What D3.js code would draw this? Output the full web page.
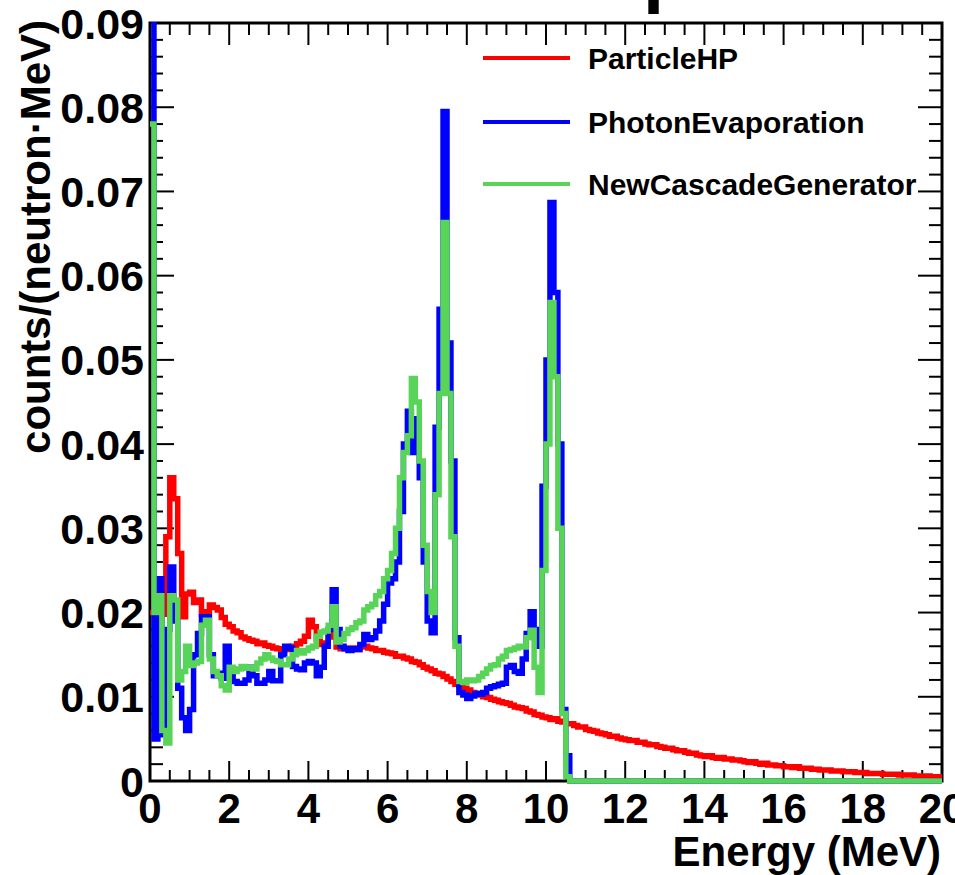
<!DOCTYPE html>
<html><head><meta charset="utf-8">
<script src="https://cdn.jsdelivr.net/npm/d3@7"></script>
<style>
body{margin:0;background:#fff}
svg{display:block}
text{font-family:"Liberation Sans",Arial,Helvetica,sans-serif;font-weight:bold;fill:#000}
</style>
</head><body>
<svg id="c" width="955" height="875"></svg>
<script>
// ---------- data ----------
const binWidth = 0.1; // MeV, histogram bins from 0 to 20 MeV
const xTickValues = [0, 2, 4, 6, 8, 10, 12, 14, 16, 18, 20];
const xTickLabels = ["0", "2", "4", "6", "8", "10", "12", "14", "16", "18", "20"];
const yTickValues = [0, 0.01, 0.02, 0.03, 0.04, 0.05, 0.06, 0.07, 0.08, 0.09];
const yTickLabels = ["0", "0.01", "0.02", "0.03", "0.04", "0.05", "0.06", "0.07", "0.08", "0.09"];
const seriesNames = ["ParticleHP", "PhotonEvaporation", "NewCascadeGenerator"];
const seriesColors = ["#ff0000", "#0000ff", "#58d458"];
const titleText = "Gamma spectrum";
const xTitle = "Energy (MeV)";
const yTitle = "counts/(neutron\u00b7MeV)";

const particleHP = [
 0.0200,0.0222,0.0218,0.0198,0.0290,0.0360,0.0335,0.0270,0.0195,0.0222,
 0.0224,0.0212,0.0215,0.0198,0.0201,0.0209,0.0206,0.0203,0.0194,0.0186,
 0.0183,0.0178,0.0176,0.0171,0.0169,0.0167,0.0166,0.0163,0.0164,0.0161,
 0.0160,0.0158,0.0157,0.0155,0.0156,0.0158,0.0160,0.0163,0.0166,0.0172,
 0.0191,0.0183,0.0168,0.0162,0.0164,0.0171,0.0180,0.0159,0.0157,0.0158,
 0.0157,0.0158,0.0156,0.0159,0.0160,0.0158,0.0157,0.0155,0.0155,0.0153,
 0.0152,0.0151,0.0148,0.0148,0.0146,0.0145,0.0142,0.0141,0.0138,0.0135,
 0.0133,0.0131,0.0128,0.0127,0.0124,0.0121,0.0118,0.0115,0.0113,0.0110,
 0.0108,0.0105,0.0104,0.0102,0.0100,0.0099,0.0097,0.0096,0.0094,0.0093,
 0.0092,0.0090,0.0088,0.0087,0.0086,0.0083,0.0082,0.0079,0.0078,0.0076,
 0.0075,0.0073,0.0074,0.0071,0.0070,0.0068,0.0068,0.0066,0.0064,0.0064,
 0.0061,0.0060,0.0059,0.0057,0.0056,0.0055,0.0053,0.0053,0.0051,0.0050,
 0.0049,0.0048,0.0048,0.0046,0.0046,0.0044,0.0043,0.0043,0.0041,0.0040,
 0.0039,0.0039,0.0037,0.0036,0.0036,0.0034,0.0033,0.0033,0.0031,0.0030,
 0.0029,0.0030,0.0028,0.0027,0.0028,0.0026,0.0026,0.0025,0.0025,0.0024,
 0.0023,0.0022,0.0023,0.0021,0.0020,0.0021,0.0019,0.0019,0.0018,0.0018,
 0.0017,0.0017,0.0016,0.0017,0.0015,0.0015,0.0015,0.0014,0.0014,0.0013,
 0.0013,0.0013,0.0012,0.0012,0.0012,0.0011,0.0011,0.0011,0.0010,0.0010,
 0.0010,0.0009,0.0009,0.0009,0.0009,0.0008,0.0008,0.0008,0.0008,0.0007,
 0.0007,0.0007,0.0007,0.0006,0.0006,0.0006,0.0006,0.0005,0.0005,0.0005
];
const photonEvaporation = [
 0.0980,0.0050,0.0240,0.0055,0.0180,0.0254,0.0190,0.0110,0.0075,0.0060,
 0.0085,0.0150,0.0175,0.0195,0.0195,0.0150,0.0125,0.0128,0.0122,0.0160,
 0.0130,0.0118,0.0116,0.0116,0.0120,0.0135,0.0125,0.0116,0.0116,0.0120,
 0.0130,0.0119,0.0119,0.0150,0.0160,0.0158,0.0136,0.0133,0.0132,0.0140,
 0.0142,0.0140,0.0125,0.0135,0.0160,0.0180,0.0227,0.0180,0.0160,0.0157,
 0.0155,0.0157,0.0156,0.0162,0.0174,0.0168,0.0170,0.0178,0.0190,0.0210,
 0.0235,0.0240,0.0260,0.0320,0.0400,0.0439,0.0390,0.0430,0.0360,0.0260,
 0.0190,0.0176,0.0420,0.0560,0.0795,0.0520,0.0380,0.0170,0.0105,0.0102,
 0.0098,0.0101,0.0104,0.0103,0.0105,0.0110,0.0112,0.0113,0.0115,0.0116,
 0.0135,0.0137,0.0130,0.0128,0.0145,0.0175,0.0201,0.0180,0.0160,0.0350,
 0.0500,0.0687,0.0580,0.0400,0.0085,0.0030,0,0,0,0,
 0,0,0,0,0,0,0,0,0,0,
 0,0,0,0,0,0,0,0,0,0,
 0,0,0,0,0,0,0,0,0,0,
 0,0,0,0,0,0,0,0,0,0,
 0,0,0,0,0,0,0,0,0,0,
 0,0,0,0,0,0,0,0,0,0,
 0,0,0,0,0,0,0,0,0,0,
 0,0,0,0,0,0,0,0,0,0,
 0,0,0,0,0,0,0,0,0,0
];
const newCascadeGenerator = [
 0.0780,0.0200,0.0220,0.0060,0.0045,0.0220,0.0215,0.0120,0.0130,0.0160,
 0.0137,0.0140,0.0142,0.0185,0.0191,0.0145,0.0130,0.0125,0.0113,0.0108,
 0.0135,0.0130,0.0133,0.0136,0.0134,0.0135,0.0133,0.0140,0.0145,0.0150,
 0.0146,0.0143,0.0142,0.0138,0.0138,0.0145,0.0150,0.0155,0.0152,0.0155,
 0.0158,0.0160,0.0172,0.0177,0.0178,0.0185,0.0207,0.0165,0.0168,0.0175,
 0.0180,0.0182,0.0188,0.0190,0.0203,0.0207,0.0210,0.0220,0.0225,0.0240,
 0.0250,0.0270,0.0300,0.0360,0.0390,0.0410,0.0478,0.0450,0.0380,0.0280,
 0.0225,0.0200,0.0340,0.0460,0.0663,0.0460,0.0290,0.0160,0.0118,0.0117,
 0.0120,0.0119,0.0120,0.0124,0.0128,0.0133,0.0137,0.0138,0.0145,0.0148,
 0.0155,0.0156,0.0158,0.0160,0.0159,0.0170,0.0179,0.0135,0.0105,0.0250,
 0.0400,0.0568,0.0480,0.0300,0.0080,0.0005,0,0,0,0,
 0,0,0,0,0,0,0,0,0,0,
 0,0,0,0,0,0,0,0,0,0,
 0,0,0,0,0,0,0,0,0,0,
 0,0,0,0,0,0,0,0,0,0,
 0,0,0,0,0,0,0,0,0,0,
 0,0,0,0,0,0,0,0,0,0,
 0,0,0,0,0,0,0,0,0,0,
 0,0,0,0,0,0,0,0,0,0,
 0,0,0,0,0,0,0,0,0,0
];
const seriesValues = [particleHP, photonEvaporation, newCascadeGenerator];

// ---------- layout ----------
const frame = {left: 150, right: 942, top: 23, bottom: 781};
const svg = d3.select("#c");

const x = d3.scaleLinear().domain([0, 20]).range([frame.left, frame.right]);
const y = d3.scaleLinear().domain([0, 0.09]).range([frame.bottom, frame.top]);

svg.append("defs").append("clipPath").attr("id", "clip")
  .append("rect").attr("x", frame.left - 2).attr("y", frame.top - 1)
  .attr("width", frame.right - frame.left + 4).attr("height", frame.bottom - frame.top + 4);

// title (lies above the picture; only the descender of "p" peeks in)
const title = svg.append("text").attr("font-size", 76).attr("y", -2).attr("x", 0).text(titleText);
(function placeTitle(){
  const node = title.node();
  const idx = titleText.indexOf("p");
  const ext = node.getExtentOfChar(idx);
  title.attr("x", 657 - (ext.x + ext.width * 0.3));
})();

// ticks
const xMinor = d3.range(0, 20.001, 0.5);
const yMinor = d3.range(0, 0.09001, 0.002);
const gT = svg.append("g").attr("stroke", "#000").attr("stroke-width", 2);
xMinor.forEach(v => {
  const major = xTickValues.some(t => Math.abs(t - v) < 1e-6);
  const lb = major ? 20 : 11, lt = major ? 22 : 12;
  gT.append("line").attr("x1", x(v)).attr("x2", x(v)).attr("y1", frame.bottom).attr("y2", frame.bottom - lb);
  gT.append("line").attr("x1", x(v)).attr("x2", x(v)).attr("y1", frame.top).attr("y2", frame.top + lt);
});
yMinor.forEach(v => {
  const major = yTickValues.some(t => Math.abs(t - v) < 1e-7);
  const l = major ? 24 : 13;
  gT.append("line").attr("x1", frame.left).attr("x2", frame.left + l).attr("y1", y(v)).attr("y2", y(v));
  gT.append("line").attr("x1", frame.right).attr("x2", frame.right - l).attr("y1", y(v)).attr("y2", y(v));
});

// frame
svg.append("rect").attr("x", frame.left).attr("y", frame.top)
  .attr("width", frame.right - frame.left).attr("height", frame.bottom - frame.top)
  .attr("fill", "none").attr("stroke", "#000").attr("stroke-width", 3);

// histogram lines (drawn over the frame, as in the reference)
const line = d3.line().x(d => x(d[0])).y(d => y(d[1])).curve(d3.curveStepAfter);
const gLines = svg.append("g").attr("clip-path", "url(#clip)");
seriesValues.forEach((vals, si) => {
  const pts = vals.map((v, i) => [i * binWidth, v]);
  pts.push([vals.length * binWidth, vals[vals.length - 1]]);
  gLines.append("path").datum(pts)
    .attr("d", line).attr("fill", "none")
    .attr("stroke", seriesColors[si]).attr("stroke-width", 5.5)
    .attr("stroke-linejoin", "miter");
});

// tick labels
svg.append("g").selectAll("text").data(xTickValues).join("text")
  .attr("x", d => x(d)).attr("y", 823).attr("text-anchor", "middle")
  .attr("font-size", 42).text((d, i) => xTickLabels[i]);
svg.append("g").selectAll("text").data(yTickValues).join("text")
  .attr("x", 144).attr("y", d => y(d) + 15.5).attr("text-anchor", "end")
  .attr("font-size", 43).text((d, i) => yTickLabels[i]);

// axis titles
svg.append("text").attr("x", 941).attr("y", 866).attr("text-anchor", "end")
  .attr("font-size", 42).text(xTitle);
svg.append("text").attr("transform", "translate(50,20) rotate(-90)")
  .attr("text-anchor", "end").attr("font-size", 42).text(yTitle);

// legend
const legY = [58, 122, 184];
const gL = svg.append("g");
seriesNames.forEach((n, i) => {
  gL.append("line").attr("x1", 483).attr("x2", 570).attr("y1", legY[i]).attr("y2", legY[i])
    .attr("stroke", seriesColors[i]).attr("stroke-width", 4);
  gL.append("text").attr("x", 588).attr("y", legY[i] + 11).attr("font-size", 30).text(n);
});
</script>
</body></html>
